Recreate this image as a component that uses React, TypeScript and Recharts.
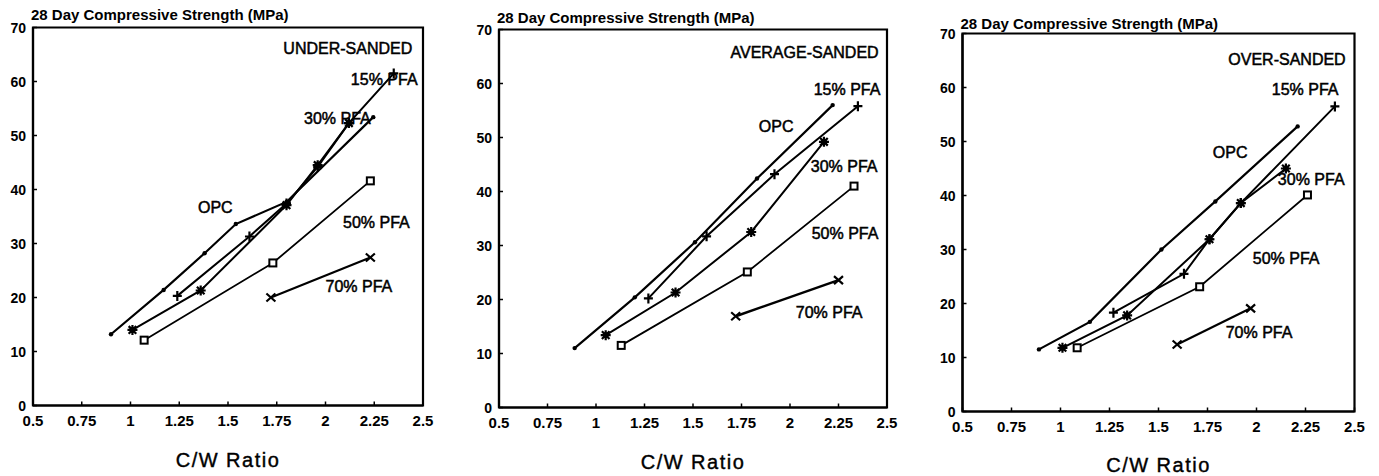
import { LineChart, Line, XAxis, YAxis, ReferenceArea, ReferenceDot } from "recharts";

type Pt = { x: number; y: number };

const FONT = '"Liberation Sans", Arial, Helvetica, sans-serif';

const xTicks = [0.5, 0.75, 1, 1.25, 1.5, 1.75, 2, 2.25, 2.5];
const yTicks = [0, 10, 20, 30, 40, 50, 60, 70];

// under-sanded mixes
const underOpc: Pt[] = [
  { x: 0.9, y: 13.2 },
  { x: 1.17, y: 21.4 },
  { x: 1.38, y: 28.2 },
  { x: 1.54, y: 33.6 },
  { x: 1.8, y: 37.7 },
  { x: 2.245, y: 53.4 },
];
const underPfa15: Pt[] = [
  { x: 1.24, y: 20.3 },
  { x: 1.61, y: 31.3 },
  { x: 1.8, y: 37.4 },
  { x: 1.96, y: 44.2 },
  { x: 2.12, y: 52.3 },
  { x: 2.35, y: 61.5 },
];
const underPfa30: Pt[] = [
  { x: 1.01, y: 14.0 },
  { x: 1.36, y: 21.3 },
  { x: 1.8, y: 37.1 },
  { x: 1.96, y: 44.5 },
  { x: 2.12, y: 52.3 },
];
const underPfa50: Pt[] = [
  { x: 1.07, y: 12.1 },
  { x: 1.73, y: 26.4 },
  { x: 2.23, y: 41.6 },
];
const underPfa70: Pt[] = [
  { x: 1.72, y: 20.0 },
  { x: 2.23, y: 27.4 },
];

// average-sanded mixes
const avgOpc: Pt[] = [
  { x: 0.89, y: 11.0 },
  { x: 1.2, y: 20.4 },
  { x: 1.51, y: 30.6 },
  { x: 1.83, y: 42.4 },
  { x: 2.22, y: 56.0 },
];
const avgPfa15: Pt[] = [
  { x: 1.27, y: 20.2 },
  { x: 1.57, y: 31.7 },
  { x: 1.92, y: 43.2 },
  { x: 2.35, y: 55.8 },
];
const avgPfa30: Pt[] = [
  { x: 1.05, y: 13.4 },
  { x: 1.41, y: 21.3 },
  { x: 1.8, y: 32.5 },
  { x: 2.175, y: 49.2 },
];
const avgPfa50: Pt[] = [
  { x: 1.13, y: 11.5 },
  { x: 1.78, y: 25.1 },
  { x: 2.33, y: 41.0 },
];
const avgPfa70: Pt[] = [
  { x: 1.72, y: 16.9 },
  { x: 2.25, y: 23.6 },
];

// over-sanded mixes
const overOpc: Pt[] = [
  { x: 0.89, y: 11.5 },
  { x: 1.15, y: 16.6 },
  { x: 1.515, y: 30.0 },
  { x: 1.79, y: 38.9 },
  { x: 2.21, y: 52.8 },
];
const overPfa15: Pt[] = [
  { x: 1.27, y: 18.3 },
  { x: 1.63, y: 25.5 },
  { x: 1.76, y: 31.9 },
  { x: 1.92, y: 38.6 },
  { x: 2.4, y: 56.5 },
];
const overPfa30: Pt[] = [
  { x: 1.01, y: 11.8 },
  { x: 1.34, y: 17.8 },
  { x: 1.76, y: 31.9 },
  { x: 1.92, y: 38.6 },
  { x: 2.15, y: 45.0 },
];
const overPfa50: Pt[] = [
  { x: 1.085, y: 11.8 },
  { x: 1.71, y: 23.1 },
  { x: 2.26, y: 40.1 },
];
const overPfa70: Pt[] = [
  { x: 1.595, y: 12.4 },
  { x: 1.97, y: 19.1 },
];

type MarkerKind = "dot" | "plus" | "star" | "square" | "cross";

function Marker({ kind, cx, cy }: { kind: MarkerKind; cx: number; cy: number }) {
  if (cx == null || cy == null) return null;
  const s = { stroke: "#000", strokeWidth: 2.2, fill: "none" };
  switch (kind) {
    case "dot":
      return <circle cx={cx} cy={cy} r={2.2} fill="#000" />;
    case "plus":
      return <path d={`M${cx - 4.5},${cy}H${cx + 4.5}M${cx},${cy - 5}V${cy + 5}`} {...s} />;
    case "star":
      return (
        <g>
          <path
            d={`M${cx - 5},${cy}H${cx + 5}M${cx},${cy - 5}V${cy + 5}M${cx - 3.8},${cy - 3.8}L${cx + 3.8},${cy + 3.8}M${cx - 3.8},${cy + 3.8}L${cx + 3.8},${cy - 3.8}`}
            {...s}
          />
          <circle cx={cx} cy={cy} r={2.8} fill="#000" />
        </g>
      );
    case "square":
      return <rect x={cx - 3.5} y={cy - 3.5} width={7} height={7} fill="#fff" stroke="#000" strokeWidth={2} />;
    case "cross":
      return <path d={`M${cx - 4.5},${cy - 4}L${cx + 4.5},${cy + 4}M${cx - 4.5},${cy + 4}L${cx + 4.5},${cy - 4}`} {...s} />;
  }
  return null;
}

// tick labels: x values below the axis, y values left of it
const XTick = (p: any) => (
  <text x={p.x} y={p.y} textAnchor="middle" dominantBaseline="central" fontFamily={FONT} fontSize={15} fontWeight="bold" fill="#000">
    {p.payload.value}
  </text>
);
const YTick = (p: any) => (
  <text x={p.x} y={p.y} textAnchor="end" dominantBaseline="central" fontFamily={FONT} fontSize={14} fontWeight="bold" fill="#000">
    {p.payload.value}
  </text>
);

type Series = { name: string; data: Pt[]; marker: MarkerKind; width: number };
type Note = { text: string; x: number; y: number; anchor?: "start" | "end" };
type Box = { left: number; width: number; plotLeft: number; plotRight: number; plotTop: number; plotBottom: number; titleTop: number; axisTitleTop: number };

const underSeries: Series[] = [
  { name: "OPC", data: underOpc, marker: "dot", width: 2.2 },
  { name: "15% PFA", data: underPfa15, marker: "plus", width: 2 },
  { name: "30% PFA", data: underPfa30, marker: "star", width: 2 },
  { name: "50% PFA", data: underPfa50, marker: "square", width: 1.8 },
  { name: "70% PFA", data: underPfa70, marker: "cross", width: 2.2 },
];
const avgSeries: Series[] = [
  { name: "OPC", data: avgOpc, marker: "dot", width: 2.2 },
  { name: "15% PFA", data: avgPfa15, marker: "plus", width: 2 },
  { name: "30% PFA", data: avgPfa30, marker: "star", width: 2 },
  { name: "50% PFA", data: avgPfa50, marker: "square", width: 1.8 },
  { name: "70% PFA", data: avgPfa70, marker: "cross", width: 2.5 },
];
const overSeries: Series[] = [
  { name: "OPC", data: overOpc, marker: "dot", width: 2.2 },
  { name: "15% PFA", data: overPfa15, marker: "plus", width: 2 },
  { name: "30% PFA", data: overPfa30, marker: "star", width: 2 },
  { name: "50% PFA", data: overPfa50, marker: "square", width: 1.8 },
  { name: "70% PFA", data: overPfa70, marker: "cross", width: 2.2 },
];

// annotation anchors, in axis units
const underNotes: Note[] = [
  { text: "UNDER-SANDED", x: 2.445, y: 66.2, anchor: "end" },
  { text: "15% PFA", x: 2.13, y: 60.3 },
  { text: "30% PFA", x: 1.89, y: 53.1 },
  { text: "OPC", x: 1.346, y: 36.6 },
  { text: "50% PFA", x: 2.09, y: 33.8 },
  { text: "70% PFA", x: 2.0, y: 22.1 },
];
const avgNotes: Note[] = [
  { text: "AVERAGE-SANDED", x: 2.457, y: 65.8, anchor: "end" },
  { text: "15% PFA", x: 2.122, y: 58.9 },
  { text: "OPC", x: 1.839, y: 52.0 },
  { text: "30% PFA", x: 2.107, y: 44.7 },
  { text: "50% PFA", x: 2.112, y: 32.3 },
  { text: "70% PFA", x: 2.03, y: 17.6 },
];
const overNotes: Note[] = [
  { text: "OVER-SANDED", x: 2.455, y: 65.2, anchor: "end" },
  { text: "15% PFA", x: 2.078, y: 59.7 },
  { text: "OPC", x: 1.777, y: 48.0 },
  { text: "30% PFA", x: 2.109, y: 43.0 },
  { text: "50% PFA", x: 1.981, y: 28.4 },
  { text: "70% PFA", x: 1.843, y: 14.7 },
];

const H = 476;
const YW = 30;
const XH = 30;

function Panel({ box, series, notes }: { box: Box; series: Series[]; notes: Note[] }) {
  const margin = {
    top: box.plotTop,
    right: box.width - box.plotRight,
    left: box.plotLeft - YW,
    bottom: H - box.plotBottom - XH,
  };
  return (
    <div style={{ position: "absolute", left: box.left, top: 0, width: box.width, height: H }}>
      <div
        style={{
          position: "absolute",
          left: box.plotLeft - 2,
          top: box.titleTop,
          fontFamily: FONT,
          fontWeight: 700,
          fontSize: 15,
          lineHeight: "16px",
          whiteSpace: "nowrap",
        }}
      >
        28 Day Compressive Strength (MPa)
      </div>
      <LineChart width={box.width} height={H} margin={margin}>
        <XAxis
          dataKey="x"
          type="number"
          domain={[0.5, 2.5]}
          ticks={xTicks}
          allowDataOverflow
          height={XH}
          axisLine={{ stroke: "#000", strokeWidth: 2.2 }}
          tickLine={{ stroke: "#000", strokeWidth: 1.5 }}
          tickSize={-4}
          tickMargin={19}
          tick={XTick}
          interval={0}
        />
        <YAxis
          type="number"
          domain={[0, 70]}
          ticks={yTicks}
          allowDataOverflow
          width={YW}
          axisLine={{ stroke: "#000", strokeWidth: 2.2 }}
          tickLine={{ stroke: "#000", strokeWidth: 1.5 }}
          tickSize={-4}
          tickMargin={11}
          tick={YTick}
          interval={0}
        />
        <ReferenceArea x1={0.5} x2={2.5} y1={0} y2={70} fill="none" stroke="#000" strokeWidth={2.2} />
        {series.map((s) => (
          <Line
            key={s.name}
            data={s.data}
            dataKey="y"
            name={s.name}
            type="linear"
            stroke="#000"
            strokeWidth={s.width}
            isAnimationActive={false}
            dot={(p: any) => <Marker key={`${s.name}-${p.index}`} kind={s.marker} cx={p.cx} cy={p.cy} />}
            activeDot={false}
          />
        ))}
        {notes.map((n) => (
          <ReferenceDot
            key={n.text}
            x={n.x}
            y={n.y}
            r={0}
            ifOverflow="visible"
            shape={(p: any) => (
              <text
                x={p.cx}
                y={p.cy}
                textAnchor={n.anchor ?? "start"}
                dominantBaseline="central"
                fontFamily={FONT}
                fontSize={16}
                fill="#000"
                stroke="#000"
                strokeWidth={0.5}
              >
                {n.text}
              </text>
            )}
          />
        ))}
      </LineChart>
      <div
        style={{
          position: "absolute",
          left: box.plotLeft,
          width: box.plotRight - box.plotLeft,
          top: box.axisTitleTop,
          textAlign: "center",
          fontFamily: FONT,
          fontSize: 20,
          letterSpacing: 1.5,
          lineHeight: "22px",
          WebkitTextStroke: "0.4px #000",
        }}
      >
        C/W Ratio
      </div>
    </div>
  );
}

const underBox: Box = { left: 0, width: 460, plotLeft: 33, plotRight: 423, plotTop: 27.5, plotBottom: 405.5, titleTop: 7, axisTitleTop: 449 };
const avgBox: Box = { left: 460, width: 460, plotLeft: 39, plotRight: 427, plotTop: 29.5, plotBottom: 407.5, titleTop: 10, axisTitleTop: 451 };
const overBox: Box = { left: 920, width: 459, plotLeft: 42.5, plotRight: 434.5, plotTop: 33.5, plotBottom: 411.5, titleTop: 16, axisTitleTop: 454 };

export default function App() {
  return (
    <div style={{ position: "absolute", left: 0, top: 0, width: 1379, height: H, overflow: "hidden", background: "#fff" }}>
      <Panel box={underBox} series={underSeries} notes={underNotes} />
      <Panel box={avgBox} series={avgSeries} notes={avgNotes} />
      <Panel box={overBox} series={overSeries} notes={overNotes} />
    </div>
  );
}
